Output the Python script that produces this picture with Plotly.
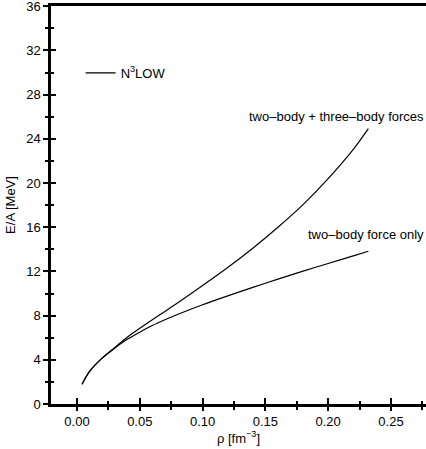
import plotly.graph_objects as go

rho = [0.004, 0.01, 0.02, 0.03, 0.04, 0.05, 0.06, 0.07, 0.08, 0.10, 0.12, 0.14, 0.16, 0.18, 0.20, 0.22, 0.232]
e_2b3b = [1.78, 2.95, 4.15, 5.10, 6.05, 6.85, 7.62, 8.38, 9.15, 10.72, 12.35, 14.10, 16.00, 18.05, 20.40, 23.05, 24.93]
e_2b = [1.78, 2.95, 4.15, 5.05, 5.85, 6.50, 7.10, 7.62, 8.10, 8.98, 9.78, 10.55, 11.30, 12.02, 12.72, 13.40, 13.82]

xticks = [0.0, 0.05, 0.10, 0.15, 0.20, 0.25]
yticks = [0, 4, 8, 12, 16, 20, 24, 28, 32, 36]

FONT = "Arial, Liberation Sans, sans-serif"
XR = [-0.0207, 0.2779]
YR = [0, 36.02]

fig = go.Figure()
fig.add_trace(go.Scatter(x=rho, y=e_2b3b, mode="lines", name="N<sup>3</sup>LOW",
                         line=dict(color="black", width=1.2, shape="spline", smoothing=0.8), showlegend=True))
fig.add_trace(go.Scatter(x=rho, y=e_2b, mode="lines", name="N<sup>3</sup>LOW",
                         line=dict(color="black", width=1.2, shape="spline", smoothing=0.8), showlegend=False))
# invisible trace to activate overlay axes (inner halves of the crossing ticks)
fig.add_trace(go.Scatter(x=[None], y=[None], xaxis="x2", yaxis="y2", showlegend=False, hoverinfo="skip"))

common_x = dict(range=XR, tickvals=xticks, showgrid=False, zeroline=False)
common_y = dict(range=YR, tickvals=yticks, showgrid=False, zeroline=False)

fig.update_layout(
    width=426, height=449,
    margin=dict(l=51, r=0, t=6, b=45),
    paper_bgcolor="white", plot_bgcolor="white",
    font=dict(family=FONT, size=13, color="black"),
    xaxis=dict(**common_x, ticktext=[f"{v:.2f}" for v in xticks],
               ticks="outside", ticklen=4, tickwidth=1.5, tickcolor="black",
               showline=True, linewidth=2.5, linecolor="black", mirror=True,
               ticklabeloverflow="allow",
               minor=dict(ticks="outside", ticklen=3, tickwidth=1.5, tickcolor="black", dtick=0.025, tick0=0),
               title=dict(text="ρ [fm<sup>−3</sup>]", font=dict(size=13), standoff=6),
               tickfont=dict(size=13)),
    yaxis=dict(**common_y, ticks="outside", ticklen=5, tickwidth=1.5, tickcolor="black",
               showline=True, linewidth=2.5, linecolor="black",
               ticklabeloverflow="allow",
               minor=dict(ticks="outside", ticklen=3, tickwidth=1.5, tickcolor="black", dtick=2, tick0=0),
               title=dict(text="E/A [MeV]", font=dict(size=13), standoff=8),
               tickfont=dict(size=13)),
    xaxis2=dict(**common_x, overlaying="x", anchor="y", side="bottom", showticklabels=False,
                ticks="inside", ticklen=6, tickwidth=1.5, tickcolor="black", showline=False,
                minor=dict(ticks="inside", ticklen=3, tickwidth=1.5, tickcolor="black", dtick=0.025, tick0=0)),
    yaxis2=dict(**common_y, overlaying="y", anchor="x", side="left", showticklabels=False,
                ticks="inside", ticklen=5, tickwidth=1.5, tickcolor="black", showline=False,
                minor=dict(ticks="inside", ticklen=3, tickwidth=1.5, tickcolor="black", dtick=2, tick0=0)),
    legend=dict(x=0.079, y=0.832, xanchor="left", yanchor="middle", bgcolor="rgba(0,0,0,0)",
                font=dict(size=13), itemwidth=30),
    showlegend=True,
)

fig.add_annotation(x=0.9995, y=26.05, xref="paper", yref="y", text="two–body + three–body forces",
                   showarrow=False, xanchor="right", yanchor="middle", font=dict(size=13))
fig.add_annotation(x=0.9995, y=15.38, xref="paper", yref="y", text="two–body force only",
                   showarrow=False, xanchor="right", yanchor="middle", font=dict(size=13))

fig.write_html("out.html")
